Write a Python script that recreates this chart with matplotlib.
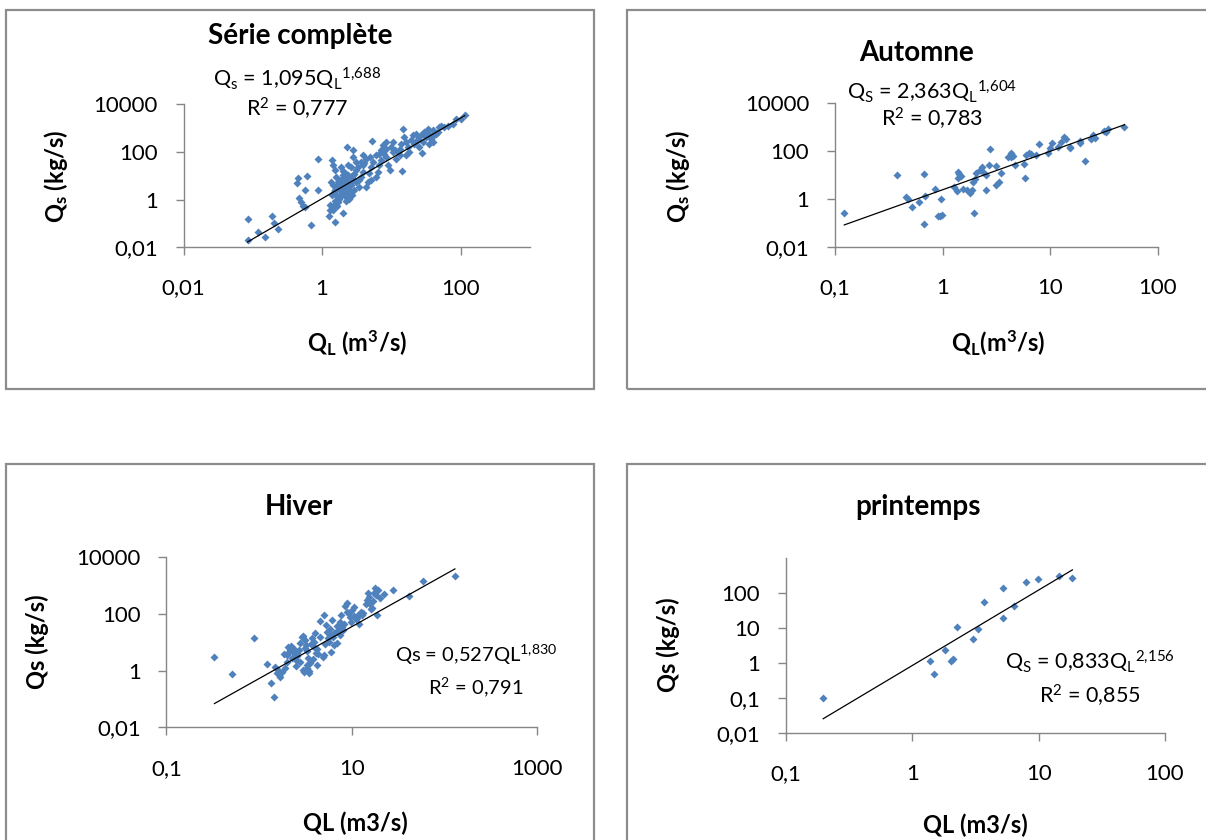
import numpy as np
import matplotlib
matplotlib.use('Agg')
import matplotlib.pyplot as plt
from matplotlib.patches import Rectangle
from matplotlib.ticker import FixedLocator, FixedFormatter, NullLocator

plt.rcParams['font.family'] = ['Lato', 'DejaVu Sans']
plt.rcParams['mathtext.fontset'] = 'custom'
plt.rcParams['mathtext.default'] = 'regular'

# --- données (QL en m3/s, Qs en kg/s) ---
serie_ql = [0.084, 0.084, 0.12, 0.15, 0.19, 0.20, 0.23, 0.69, 0.86, 0.45,
            0.44, 0.57, 0.61, 0.86, 0.47, 0.50, 0.53, 0.56, 1.25, 1.54,
            1.32, 1.43, 1.99, 1.39, 1.43, 1.51, 1.59, 1.35, 1.56, 1.63,
            1.51, 1.68, 1.78, 1.88, 1.99, 2.10, 2.22, 2.35, 2.27, 2.77,
            2.77, 1.88, 2.03, 2.43, 2.54, 2.65, 2.77, 2.93, 3.10, 3.27,
            3.10, 3.46, 2.93, 2.72, 2.48, 2.22, 2.17, 2.54, 3.66, 3.87,
            4.09, 3.87, 4.57, 4.32, 4.83, 5.1, 5.4, 5.2, 5.9, 6.4,
            6.7, 7.1, 7.5, 7.9, 8.4, 8.9, 9.4, 9.9, 10.5, 11.1,
            11.7, 12.4, 13.1, 14.3, 13.8, 14.7, 15.4, 16.3, 17.2, 18.2,
            19.2, 20.3, 21.5, 22.7, 24.0, 25.3, 26.8, 28.3, 29.9, 31.6,
            33.4, 35.3, 37.3, 39.5, 41.7, 39.5, 44.1, 49.3, 52, 58,
            65, 77, 86, 102, 114, 28, 16.3, 8.4, 6.7, 5.1,
            3.87, 3.1, 2.6, 2.8, 3.38, 2.35, 1.68, 1.78, 1.43, 1.99,
            3.66, 4.32, 4.95, 6.0, 7.1, 8.4, 10.5, 13.1, 22.7, 39.5,
            46.6, 35,
            1.3, 1.4, 1.45, 1.5, 1.6, 1.65, 1.7, 1.75, 1.8, 1.85,
            1.9, 2.0, 2.05, 2.1, 2.2, 2.3, 2.4, 2.5, 2.6, 2.7,
            1.55, 1.62, 1.72, 1.95, 2.15]
serie_qs = [0.15, 0.020, 0.043, 0.026, 0.21, 0.10, 0.059, 0.087, 48, 8.1,
            4.9, 2.4, 9.9, 2.6, 1.17, 0.77, 0.56, 0.48, 0.21, 0.12,
            0.35, 0.45, 0.27, 44, 27, 16.5, 8.7, 5.4, 2.4, 1.34,
            0.91, 0.77, 1.07, 1.73, 3.1, 4.6, 6.3, 10.2, 158, 115,
            60, 24, 15.5, 2.6, 3.9, 5.4, 7.4, 11.2, 16.5, 23,
            5.4, 3.5, 2.4, 1.62, 1.07, 0.91, 1.47, 2.0, 8.7, 14,
            34, 71, 5.4, 3.3, 12.8, 23, 37, 274, 8.7, 14,
            27, 44, 186, 83, 60, 27, 16.5, 158, 257, 115,
            51, 98, 71, 15, 218, 930, 417, 257, 158, 98,
            302, 490, 218, 575, 355, 158, 490, 257, 676, 417,
            930, 575, 355, 794, 490, 257, 575, 1096, 1175, 1096,
            1175, 1514, 2455, 2455, 3388, 91, 71, 257, 83, 6.3,
            27, 37, 23, 10.2, 6.3, 27, 3.3, 6.3, 3.9, 10.2,
            37, 51, 60, 71, 115, 135, 98, 135, 257, 490,
            676, 218,
            0.6, 1.5, 0.35, 2.0, 3.0, 0.55, 4.0, 1.2, 6.0, 2.2,
            1.5, 8.0, 3.5, 2.5, 12, 5.0, 1.8, 7.0, 4.2, 9.5,
            0.65, 2.8, 5.5, 1.9, 3.3]

automne_ql = [0.122, 0.375, 0.67, 0.67, 0.46, 0.48, 0.52, 0.60, 0.69, 0.85,
              0.96, 0.90, 0.94, 0.99, 1.27, 1.35, 1.40, 1.43, 1.47, 1.40,
              1.55, 1.79, 1.86, 1.95, 1.92, 2.0, 2.2, 2.3, 2.35, 2.06,
              2.55, 2.7, 2.78, 2.55, 3.16, 3.16, 3.35, 3.5, 4.06, 4.27,
              4.5, 4.7, 5.66, 5.87, 6.0, 6.35, 6.67, 7.4, 7.85, 9.5,
              9.9, 10.4, 11.8, 12.5, 13.4, 14.1, 15.1, 15.3, 18.7, 19.0,
              21.2, 23.9, 24.9, 26.2, 31.2, 33, 34.2, 48.8, 4.27, 1.67]
automne_qs = [0.245, 9.7, 10.3, 0.085, 1.2, 0.94, 0.47, 0.75, 1.29, 2.45,
              0.97, 0.19, 0.19, 0.21, 2.96, 2.15, 13.4, 10.6, 8.8, 7.0,
              2.45, 1.78, 2.3, 0.26, 5.1, 6.4, 15.6, 21, 13.4, 11.4,
              9.7, 25, 114, 2.3, 23, 3.7, 5.1, 11.4, 53, 77,
              60, 25, 28, 7.0, 66, 77, 71, 66, 190, 83,
              126, 204, 147, 240, 363, 295, 126, 147, 263, 204,
              38, 295, 447, 324, 676, 617, 776, 1000, 53, 2.3]

hiver_ql = [0.33, 0.51, 0.88, 1.23, 1.34, 1.45, 1.49, 1.55, 1.62, 1.68,
            1.75, 1.90, 1.86, 1.98, 2.06, 2.17, 2.22, 2.30, 2.39, 2.49,
            2.58, 2.68, 2.78, 2.88, 2.99, 3.1, 3.21, 3.28, 3.32, 3.44,
            3.36, 3.56, 3.69, 3.90, 3.96, 4.09, 4.24, 4.38, 4.53, 4.85,
            5.0, 5.05, 5.24, 5.39, 5.5, 5.68, 5.86, 6.0, 6.2, 6.4,
            6.5, 6.9, 7.1, 7.4, 7.7, 7.9, 8.1, 8.3, 8.5, 8.8,
            9.0, 9.3, 9.6, 9.9, 10.2, 10.6, 10.7, 11.3, 11.6, 12.1,
            12.5, 13.3, 14.2, 14.5, 15.0, 15.3, 15.9, 16.5, 17.2, 17.9,
            18.1, 18.6, 19.3, 20.3, 22.2, 27.8, 42, 59, 130,
            2.0, 2.1, 2.25, 2.4, 2.5, 2.6, 2.75, 3.0, 3.05, 3.15,
            3.3, 3.5, 3.6, 3.8, 4.0, 4.2, 4.6, 5.2, 5.8, 6.3,
            7.0, 7.5, 11.0, 12.8, 16.0, 16.8]
hiver_qs = [3.1, 0.74, 14.6, 1.67, 0.36, 0.12, 1.38, 0.80, 1.05, 0.61,
            0.92, 1.2, 3.9, 3.6, 7.0, 5.4, 7.4, 4.7, 3.1, 2.4,
            4.1, 5.4, 9.2, 15, 16.7, 12, 8.1, 1.2, 1.58, 1.0,
            2.7, 1.8, 13.8, 10.6, 7.0, 4.1, 1.58, 3.9, 58, 3.1,
            3.6, 92, 41, 24, 13.8, 10.6, 18, 4.7, 61, 8.1,
            21, 9.2, 27, 54, 92, 34, 27, 44, 191, 240,
            120, 105, 81, 54, 138, 182, 85, 71, 92, 44,
            120, 112, 224, 310, 537, 407, 224, 158, 537, 813,
            468, 92, 708, 355, 513, 708, 436, 1513, 2190,
            2.0, 4.5, 2.8, 6.0, 1.5, 3.4, 2.0, 1.1, 0.9, 6.5,
            5.0, 0.8, 9.0, 2.5, 22, 6.0, 15, 9.0, 30, 16,
            38, 18, 65, 95, 150, 280]

printemps_ql = [0.197, 1.37, 1.48, 1.82, 2.03, 2.09, 2.25, 3.01, 3.28, 3.66,
                5.26, 5.26, 6.43, 8.0, 9.8, 14.6, 18.5]
printemps_qs = [0.098, 1.12, 0.47, 2.35, 1.09, 1.24, 10.4, 4.7, 9.4, 54,
                136, 19, 41, 201, 246, 300, 268]

# coefficients des courbes de tendance puissance Qs = a * QL^b
fit_a = [1.095, 2.363, 0.527, 0.833]
fit_b = [1.688, 1.604, 1.830, 2.156]

titles = ["Série complète", "Automne", "Hiver", "printemps"]
eq_texts = [r"Q$_s$ = 1,095Q$_L$$^{1{,}688}$",
            r"Q$_S$ = 2,363Q$_L$$^{1{,}604}$",
            r"Qs = 0,527QL$^{1{,}830}$",
            r"Q$_S$ = 0,833Q$_L$$^{2{,}156}$"]
r2_texts = [r"R$^2$ = 0,777", r"R$^2$ = 0,783", r"R$^2$ = 0,791", r"R$^2$ = 0,855"]
xlabels = [r"Q$_L$ (m$^3$/s)", r"Q$_L$(m$^3$/s)", "QL (m3/s)", "QL (m3/s)"]
ylabels = [r"Q$_s$ (kg/s)", r"Q$_s$ (kg/s)", "Qs (kg/s)", "Qs (kg/s)"]

xticks = [[0.01, 1, 100], [0.1, 1, 10, 100], [0.1, 10, 1000], [0.1, 1, 10, 100]]
xticklabels = [["0,01", "1", "100"], ["0,1", "1", "10", "100"],
               ["0,1", "10", "1000"], ["0,1", "1", "10", "100"]]
yticks = [[0.01, 1, 100, 10000], [0.01, 1, 100, 10000],
          [0.01, 1, 100, 10000], [0.01, 0.1, 1, 10, 100]]
yticklabels = [["0,01", "1", "100", "10000"], ["0,01", "1", "100", "10000"],
               ["0,01", "1", "100", "10000"], ["0,01", "0,1", "1", "10", "100"]]
xlims = [(0.01, 1000), (0.1, 100), (0.1, 1000), (0.1, 100)]
ylims = [(0.01, 10000), (0.01, 10000), (0.01, 10000), (0.01, 1000)]

all_ql = [serie_ql, automne_ql, hiver_ql, printemps_ql]
all_qs = [serie_qs, automne_qs, hiver_qs, printemps_qs]

W, H = 1206, 840
fig = plt.figure(figsize=(W / 100, H / 100), dpi=100)


def fx(x):
    return x / W


def fy(y):
    return 1 - y / H


# cadres des graphiques (pixels: x0, y0, x1, y1)
frames = [(6, 10, 594, 389), (627, 10, 1215, 389),
          (6, 464, 594, 850), (627, 464, 1215, 850)]
# zones de tracé (pixels: x0, y0, x1, y1)
plot_px = [(183.5, 104, 530, 247.3), (835, 102.7, 1158, 246.7),
           (166.4, 557.3, 537, 727.4), (786, 557.7, 1165, 732.7)]
title_pos = [(300, 36), (917, 53), (299, 507), (918, 507)]
eq_pos = [(297, 79, 109), (932, 92, 119), (476, 655, 687), (1090, 662, 696)]
eq_size = [15.5, 15.5, 14.5, 15.5]
xlab_pos = [(357, 343), (998, 343), (355, 823), (975, 825)]
ylab_pos = [(56, 176), (678, 176), (37, 642), (668, 645)]

for k in range(4):
    x0, y0, x1, y1 = frames[k]
    fig.add_artist(Rectangle((fx(x0), fy(y1)), fx(x1 - x0), (y1 - y0) / H,
                             transform=fig.transFigure, fill=False,
                             ec='#8c8c8c', lw=1.6))

    px0, py0, px1, py1 = plot_px[k]
    ax = fig.add_axes([fx(px0), fy(py1), fx(px1 - px0), (py1 - py0) / H])
    ax.set_xscale('log')
    ax.set_yscale('log')
    ax.set_xlim(*xlims[k])
    ax.set_ylim(*ylims[k])
    ax.patch.set_alpha(0)

    ax.plot(all_ql[k], all_qs[k], 'D', ms=4.0, color='#4f81bd', mec='none',
            zorder=3)
    xl = np.geomspace(min(all_ql[k]), max(all_ql[k]), 50)
    ax.plot(xl, fit_a[k] * xl ** fit_b[k], color='black', lw=0.9, zorder=4)

    for s in ['top', 'right']:
        ax.spines[s].set_visible(False)
    for s in ['left', 'bottom']:
        ax.spines[s].set_color('#868686')
        ax.spines[s].set_linewidth(1.0)

    ax.xaxis.set_major_locator(FixedLocator(xticks[k]))
    ax.xaxis.set_major_formatter(FixedFormatter(xticklabels[k]))
    ax.yaxis.set_major_locator(FixedLocator(yticks[k]))
    ax.yaxis.set_major_formatter(FixedFormatter(yticklabels[k]))
    ax.xaxis.set_minor_locator(NullLocator())
    ax.yaxis.set_minor_locator(NullLocator())
    ax.tick_params(axis='x', direction='out', length=5.5, width=1,
                   color='#868686', pad=17, labelsize=16, labelcolor='black')
    ax.tick_params(axis='y', direction='out', length=5.5, width=1,
                   color='#868686', pad=13, labelsize=16, labelcolor='black')

    tx, ty = title_pos[k]
    fig.text(fx(tx), fy(ty), titles[k], ha='center', va='center',
             fontsize=20, fontweight='bold')
    ex, ey1, ey2 = eq_pos[k]
    fig.text(fx(ex), fy(ey1), eq_texts[k], ha='center', va='center',
             fontsize=eq_size[k])
    fig.text(fx(ex), fy(ey2), r2_texts[k], ha='center', va='center',
             fontsize=eq_size[k])
    lx, ly = xlab_pos[k]
    fig.text(fx(lx), fy(ly), xlabels[k], ha='center', va='center',
             fontsize=17, fontweight='bold')
    lx, ly = ylab_pos[k]
    fig.text(fx(lx), fy(ly), ylabels[k], ha='center', va='center',
             fontsize=17, fontweight='bold', rotation=90)

plt.savefig("out.png", dpi=100)
